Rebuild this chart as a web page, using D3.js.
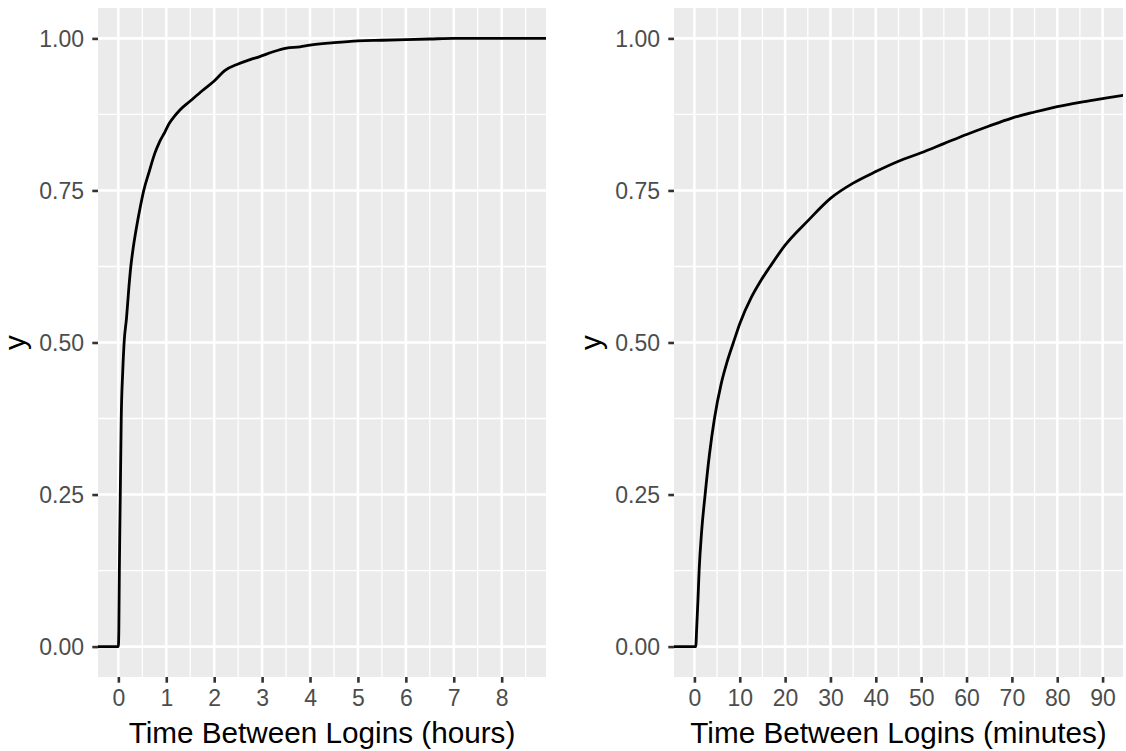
<!DOCTYPE html>
<html>
<head>
<meta charset="utf-8">
<script src="https://cdn.jsdelivr.net/npm/d3@7"></script>
<style>
  html, body { margin: 0; padding: 0; background: #ffffff; }
  svg { display: block; font-family: "Liberation Sans", Arial, sans-serif; }
</style>
</head>
<body>
<svg id="chart" width="1126" height="751"></svg>
<script>
// Empirical cumulative distribution of the time between logins, in hours
const hoursX = [0, 0.01, 0.02, 0.03, 0.04, 0.06, 0.09, 0.12, 0.17, 0.22, 0.26, 0.30, 0.38, 0.45, 0.53,
  0.64, 0.76, 0.86, 0.97, 1.06, 1.16, 1.28, 1.50, 1.75, 2.00, 2.22, 2.50, 2.75, 2.95, 3.23, 3.51,
  3.79, 4.0, 4.5, 5.0, 5.5, 6.0, 6.5, 7.0, 8.5];
const hoursP = [0, 0.03, 0.12, 0.19, 0.25, 0.375, 0.45, 0.50, 0.54, 0.591, 0.625, 0.65, 0.69, 0.72, 0.75,
  0.78, 0.811, 0.83, 0.846, 0.86, 0.871, 0.882, 0.897, 0.914, 0.930, 0.947, 0.958, 0.965, 0.970, 0.978, 0.984,
  0.986, 0.989, 0.993, 0.996, 0.997, 0.998, 0.999, 1.0, 1.0];

// The same distribution in minutes, shown over the first hour and a half
const minutesX = [0.3, 0.5, 0.8, 1.04, 1.6, 2.36, 3.3, 4.42, 5.9, 7.2, 8.6, 10.0, 12.6, 14.5, 16.7,
  20.0, 25.0, 30.0, 35.0, 40.0, 45.0, 50, 55, 60, 65, 70, 75, 80, 85, 90, 95];
const minutesP = [0, 0.03, 0.08, 0.125, 0.19, 0.25, 0.315, 0.375, 0.432, 0.468, 0.50, 0.531, 0.575, 0.60, 0.625,
  0.66, 0.70, 0.737, 0.762, 0.781, 0.798, 0.812, 0.827, 0.842, 0.856, 0.869, 0.879, 0.888, 0.895, 0.901, 0.907];

const hourTicks = [0, 1, 2, 3, 4, 5, 6, 7, 8];
const hourMinor = [0.5, 1.5, 2.5, 3.5, 4.5, 5.5, 6.5, 7.5, 8.5];
const minuteTicks = [0, 10, 20, 30, 40, 50, 60, 70, 80, 90];
const minuteMinor = [5, 15, 25, 35, 45, 55, 65, 75, 85];
const yTicks = [0, 0.25, 0.5, 0.75, 1];
const yMinor = [0.125, 0.375, 0.625, 0.875];

const svg = d3.select("#chart");
const panelTop = 8, panelBottom = 677;

function expand(lo, hi) {
  const pad = (hi - lo) * 0.05;
  return [lo - pad, hi + pad];
}

function drawPanel(opts) {
  const { id, left, right, xLimits, xs, ps, majorX, minorX, title, padEnd } = opts;
  const x = d3.scaleLinear().domain(expand(xLimits[0], xLimits[1])).range([left, right]);
  const y = d3.scaleLinear().domain(expand(0, 1)).range([panelBottom, panelTop]);
  const g = svg.append("g");

  g.append("rect")
    .attr("x", left).attr("y", panelTop)
    .attr("width", right - left).attr("height", panelBottom - panelTop)
    .attr("fill", "#EBEBEB");

  // minor grid
  g.selectAll(null).data(minorX).enter().append("line")
    .attr("x1", d => x(d)).attr("x2", d => x(d))
    .attr("y1", panelTop).attr("y2", panelBottom)
    .attr("stroke", "#ffffff").attr("stroke-width", 1.3);
  g.selectAll(null).data(yMinor).enter().append("line")
    .attr("x1", left).attr("x2", right)
    .attr("y1", d => y(d)).attr("y2", d => y(d))
    .attr("stroke", "#ffffff").attr("stroke-width", 1.3);

  // major grid
  g.selectAll(null).data(majorX).enter().append("line")
    .attr("x1", d => x(d)).attr("x2", d => x(d))
    .attr("y1", panelTop).attr("y2", panelBottom)
    .attr("stroke", "#ffffff").attr("stroke-width", 2.6);
  g.selectAll(null).data(yTicks).enter().append("line")
    .attr("x1", left).attr("x2", right)
    .attr("y1", d => y(d)).attr("y2", d => y(d))
    .attr("stroke", "#ffffff").attr("stroke-width", 2.6);

  // ECDF line, padded out to the panel edges
  g.append("clipPath").attr("id", id)
    .append("rect")
    .attr("x", left).attr("y", panelTop)
    .attr("width", right - left).attr("height", panelBottom - panelTop);

  const dom = x.domain();
  const pts = [[dom[0], 0]].concat(d3.zip(xs, ps));
  if (padEnd) pts.push([dom[1], ps[ps.length - 1]]);

  g.append("path")
    .datum(pts)
    .attr("clip-path", `url(#${id})`)
    .attr("fill", "none")
    .attr("stroke", "#000000")
    .attr("stroke-width", 2.8)
    .attr("stroke-linejoin", "round")
    .attr("d", d3.line().curve(d3.curveMonotoneX).x(d => x(d[0])).y(d => y(d[1])));

  // axes
  const yAxis = g.append("g")
    .attr("transform", `translate(${left},0)`)
    .call(d3.axisLeft(y).tickValues(yTicks).tickFormat(d3.format(".2f")).tickSize(5.7).tickPadding(8.3));
  const xAxis = g.append("g")
    .attr("transform", `translate(0,${panelBottom})`)
    .call(d3.axisBottom(x).tickValues(majorX).tickFormat(d3.format("d")).tickSize(5.7).tickPadding(7));

  [yAxis, xAxis].forEach(ax => {
    ax.select(".domain").remove();
    ax.selectAll(".tick line").attr("stroke", "#333333").attr("stroke-width", 2.6);
    ax.selectAll(".tick text")
      .attr("fill", "#4D4D4D")
      .attr("font-size", 23)
      .attr("font-family", "\"Liberation Sans\", Arial, sans-serif");
  });
  yAxis.selectAll(".tick text").attr("dy", "0.36em");

  // axis titles
  g.append("text")
    .attr("x", (left + right) / 2).attr("y", 743)
    .attr("text-anchor", "middle")
    .attr("font-size", 29.7)
    .attr("fill", "#000000")
    .text(title);
  g.append("text")
    .attr("transform", `translate(${left - 73},${(panelTop + panelBottom) / 2}) rotate(-90)`)
    .attr("text-anchor", "middle")
    .attr("font-size", 29.7)
    .attr("fill", "#000000")
    .text("y");
}

drawPanel({
  id: "clip-hours", left: 98, right: 546, xLimits: [0, 8.5],
  xs: hoursX, ps: hoursP, majorX: hourTicks, minorX: hourMinor,
  title: "Time Between Logins (hours)", padEnd: true
});
drawPanel({
  id: "clip-minutes", left: 674, right: 1123, xLimits: [0, 90],
  xs: minutesX, ps: minutesP, majorX: minuteTicks, minorX: minuteMinor,
  title: "Time Between Logins (minutes)", padEnd: false
});
</script>
</body>
</html>
